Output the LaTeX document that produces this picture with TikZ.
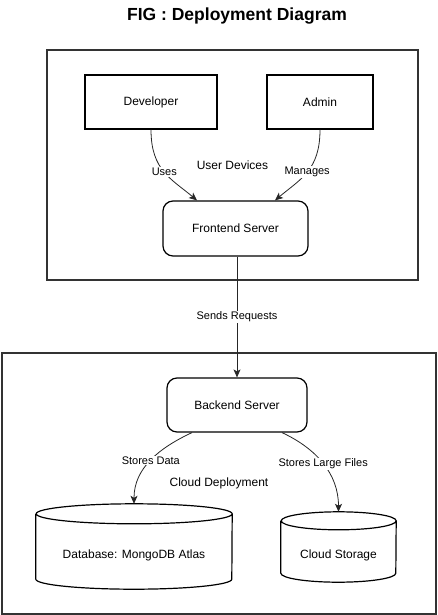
\documentclass[tikz,border=0pt]{standalone}
\usepackage{fontspec}
\setmainfont{Liberation Sans}
\usetikzlibrary{arrows.meta}
\begin{document}
\begin{tikzpicture}[x=1pt,y=-1pt,
  box/.style={draw=black, line width=1.2pt, inner sep=0pt, font=\fontsize{12}{14}\selectfont},
  rbox/.style={box, rounded corners=10pt},
  group/.style={draw=black!80, line width=1.5pt, inner sep=0pt, font=\fontsize{12}{14}\selectfont},
  cylnode/.style={inner sep=0pt, font=\fontsize{12}{14}\selectfont},
  conn/.style={draw=black!85, line width=0.8pt, -{Stealth[length=8pt,width=7pt,inset=2pt]}},
  elabel/.style={fill=white, inner sep=1pt, font=\fontsize{11}{13}\selectfont},
  cylline/.style={draw=black, line width=1.2pt}
]
\useasboundingbox (0,0) rectangle (437,615);
% title
\node[font=\bfseries\fontsize{17.5}{20}\selectfont] (title) at (237,16) {FIG : Deployment Diagram};
% groups
\node[group, minimum width=371pt, minimum height=230pt] (userdev) at (232.5,165) {User Devices};
\node[group, minimum width=434pt, minimum height=261pt] (cloud) at (219,483.5) {Cloud Deployment};
% nodes
\node[box, minimum width=132pt, minimum height=54pt] (dev) at (151,102) {Developer};
\node[box, minimum width=106pt, minimum height=54pt] (admin) at (320,102) {Admin};
\node[rbox, minimum width=145pt, minimum height=55pt] (fe) at (235.5,228.5) {Frontend Server};
\node[rbox, minimum width=140pt, minimum height=54pt] (be) at (237,405) {Backend Server};
% cylinders (text placed in body, node spans whole cylinder)
\node[cylnode, anchor=base, minimum width=196pt, text height=54pt, text depth=31pt] (db) at (134,558) {Database: MongoDB Atlas};
\node[cylnode, anchor=base, minimum width=115pt, text height=46pt, text depth=24pt] (cs) at (338.5,558) {Cloud Storage};
\draw[cylline] ([yshift=-10pt]db.north west) -- ([yshift=10pt]db.south west)
  arc[start angle=180, end angle=360, x radius=98pt, y radius=10pt]
  -- ([yshift=-10pt]db.north east)
  arc[start angle=0, end angle=180, x radius=98pt, y radius=10pt]
  arc[start angle=180, end angle=360, x radius=98pt, y radius=10pt];
\draw[cylline] ([yshift=-9pt]cs.north west) -- ([yshift=9pt]cs.south west)
  arc[start angle=180, end angle=360, x radius=57.5pt, y radius=9pt]
  -- ([yshift=-9pt]cs.north east)
  arc[start angle=0, end angle=180, x radius=57.5pt, y radius=9pt]
  arc[start angle=180, end angle=360, x radius=57.5pt, y radius=9pt];
% connectors
\draw[conn] (dev.south) to[out=-90, in=140, out looseness=1.23, in looseness=1.02] node[elabel, pos=0.5] {Uses} ([xshift=-38.5pt]fe.north);
\draw[conn] (admin.south) to[out=-90, in=40, out looseness=1.23, in looseness=1.02] node[elabel, pos=0.5] {Manages} ([xshift=39.5pt]fe.north);
\draw[conn] ([xshift=1.5pt]fe.south) -- node[elabel] {Sends Requests} (be.north);
\draw[conn] ([xshift=-45pt]be.south) to[out=-155, in=90] node[elabel, pos=0.5] {Stores Data} (db.north);
\draw[conn] ([xshift=45pt]be.south) to[out=-25, in=90] node[elabel, pos=0.5] {Stores Large Files} (cs.north);
\end{tikzpicture}
\end{document}
